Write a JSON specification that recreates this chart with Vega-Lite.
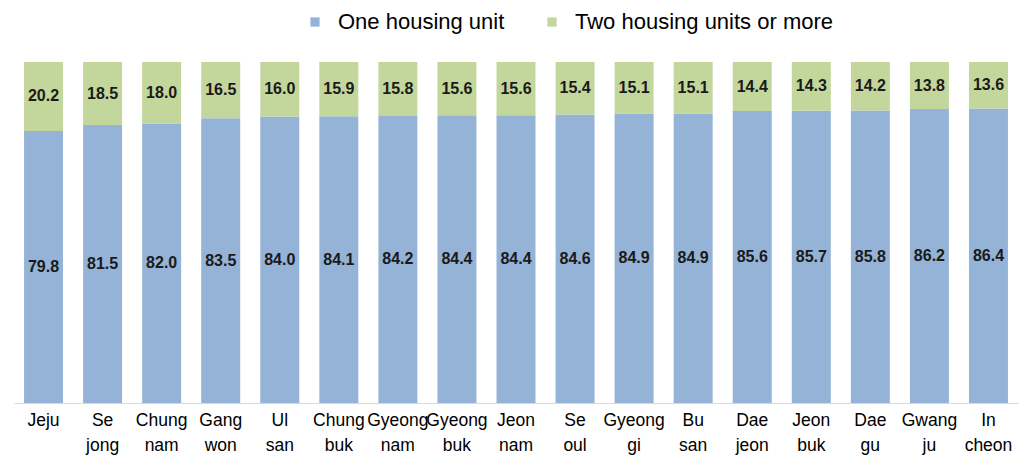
{
  "$schema": "https://vega.github.io/schema/vega-lite/v6.json",
  "width": 1004,
  "height": 341,
  "autosize": {"type": "none"},
  "padding": {"left": 14, "top": 62, "right": 2, "bottom": 57},
  "background": "white",
  "config": {"view": {"stroke": null}, "font": "Liberation Sans"},
  "data": {
    "values": [
      {"region": "Jeju", "type": "One housing unit", "order": 1, "pct": 79.8},
      {"region": "Jeju", "type": "Two housing units or more", "order": 2, "pct": 20.2},
      {"region": "Se jong", "type": "One housing unit", "order": 1, "pct": 81.5},
      {"region": "Se jong", "type": "Two housing units or more", "order": 2, "pct": 18.5},
      {"region": "Chung nam", "type": "One housing unit", "order": 1, "pct": 82.0},
      {"region": "Chung nam", "type": "Two housing units or more", "order": 2, "pct": 18.0},
      {"region": "Gang won", "type": "One housing unit", "order": 1, "pct": 83.5},
      {"region": "Gang won", "type": "Two housing units or more", "order": 2, "pct": 16.5},
      {"region": "Ul san", "type": "One housing unit", "order": 1, "pct": 84.0},
      {"region": "Ul san", "type": "Two housing units or more", "order": 2, "pct": 16.0},
      {"region": "Chung buk", "type": "One housing unit", "order": 1, "pct": 84.1},
      {"region": "Chung buk", "type": "Two housing units or more", "order": 2, "pct": 15.9},
      {"region": "Gyeong nam", "type": "One housing unit", "order": 1, "pct": 84.2},
      {"region": "Gyeong nam", "type": "Two housing units or more", "order": 2, "pct": 15.8},
      {"region": "Gyeong buk", "type": "One housing unit", "order": 1, "pct": 84.4},
      {"region": "Gyeong buk", "type": "Two housing units or more", "order": 2, "pct": 15.6},
      {"region": "Jeon nam", "type": "One housing unit", "order": 1, "pct": 84.4},
      {"region": "Jeon nam", "type": "Two housing units or more", "order": 2, "pct": 15.6},
      {"region": "Se oul", "type": "One housing unit", "order": 1, "pct": 84.6},
      {"region": "Se oul", "type": "Two housing units or more", "order": 2, "pct": 15.4},
      {"region": "Gyeong gi", "type": "One housing unit", "order": 1, "pct": 84.9},
      {"region": "Gyeong gi", "type": "Two housing units or more", "order": 2, "pct": 15.1},
      {"region": "Bu san", "type": "One housing unit", "order": 1, "pct": 84.9},
      {"region": "Bu san", "type": "Two housing units or more", "order": 2, "pct": 15.1},
      {"region": "Dae jeon", "type": "One housing unit", "order": 1, "pct": 85.6},
      {"region": "Dae jeon", "type": "Two housing units or more", "order": 2, "pct": 14.4},
      {"region": "Jeon buk", "type": "One housing unit", "order": 1, "pct": 85.7},
      {"region": "Jeon buk", "type": "Two housing units or more", "order": 2, "pct": 14.3},
      {"region": "Dae gu", "type": "One housing unit", "order": 1, "pct": 85.8},
      {"region": "Dae gu", "type": "Two housing units or more", "order": 2, "pct": 14.2},
      {"region": "Gwang ju", "type": "One housing unit", "order": 1, "pct": 86.2},
      {"region": "Gwang ju", "type": "Two housing units or more", "order": 2, "pct": 13.8},
      {"region": "In cheon", "type": "One housing unit", "order": 1, "pct": 86.4},
      {"region": "In cheon", "type": "Two housing units or more", "order": 2, "pct": 13.6}
    ]
  },
  "transform": [
    {"stack": "pct", "groupby": ["region"], "sort": [{"field": "order", "order": "ascending"}], "as": ["y0", "y1"]},
    {"calculate": "(datum.y0 + datum.y1) / 2", "as": "ymid"}
  ],
  "encoding": {
    "x": {
      "field": "region",
      "type": "nominal",
      "sort": null,
      "scale": {"paddingInner": 0.34, "paddingOuter": 0.17},
      "axis": {
        "title": null,
        "labelAngle": 0,
        "ticks": false,
        "domainColor": "#d9d9d9",
        "domainWidth": 1,
        "labelFont": "Liberation Sans",
        "labelFontSize": 17.5,
        "labelColor": "#000000",
        "labelPadding": 8,
        "labelLineHeight": 25,
        "labelBaseline": "top",
        "labelExpr": "split(datum.label, ' ')"
      }
    }
  },
  "layer": [
    {
      "mark": {"type": "bar"},
      "encoding": {
        "y": {"field": "y0", "type": "quantitative", "scale": {"domain": [0, 100], "nice": false}, "axis": null},
        "y2": {"field": "y1"},
        "color": {
          "field": "type",
          "type": "nominal",
          "scale": {"domain": ["One housing unit", "Two housing units or more"], "range": ["#95B3D7", "#C3D69B"]},
          "legend": {
            "title": null,
            "orient": "none",
            "direction": "horizontal",
            "legendX": 290,
            "legendY": -51,
            "symbolType": "square",
            "symbolSize": 85,
            "symbolStrokeWidth": 0,
            "labelFont": "Liberation Sans",
            "labelFontSize": 22,
            "labelColor": "#000000",
            "labelOffset": 12,
            "columnPadding": 36,
            "labelLimit": 400
          }
        }
      }
    },
    {
      "mark": {"type": "text", "font": "Liberation Sans", "fontWeight": "bold", "fontSize": 16, "color": "#1a1a1a", "baseline": "middle"},
      "encoding": {
        "y": {"field": "ymid", "type": "quantitative", "scale": {"domain": [0, 100], "nice": false}},
        "text": {"field": "pct", "type": "quantitative", "format": ".1f"}
      }
    }
  ]
}
